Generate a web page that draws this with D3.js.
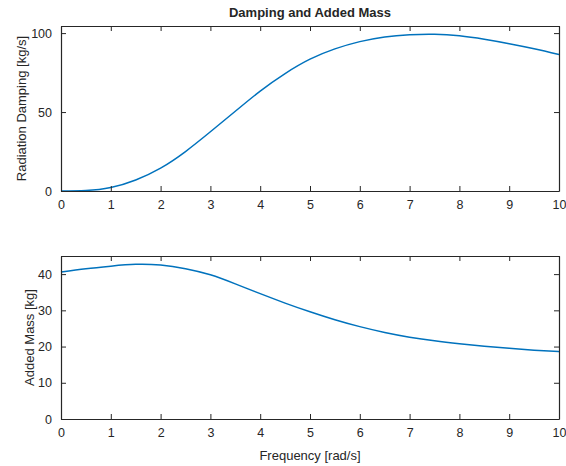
<!DOCTYPE html>
<html>
<head>
<meta charset="utf-8">
<script src="https://cdn.jsdelivr.net/npm/d3@7"></script>
<style>
  body { margin: 0; background: #fff; }
  svg text { font-family: "Liberation Sans", Arial, sans-serif; fill: #262626; }
</style>
</head>
<body>
<svg id="drawing_region"></svg>
<script>
// frequency samples [rad/s]
const freq = [0, 0.5, 1, 1.5, 2, 2.5, 3, 3.5, 4, 4.5, 5, 5.5, 6, 6.5, 7, 7.5, 8, 8.5, 9, 9.5, 10];
// radiation damping [kg/s]
const damping = [0, 0.3, 2.2, 7.0, 14.5, 25, 37.5, 50.5, 63.3, 74.4, 83.5, 90, 94.6, 97.6, 99, 99.3, 98.3, 96.1, 93.3, 90.1, 86.5];
// added mass [kg]
const addedMass = [40.6, 41.5, 42.2, 42.7, 42.5, 41.5, 39.8, 37.3, 34.6, 32.0, 29.6, 27.4, 25.5, 23.9, 22.6, 21.6, 20.8, 20.1, 19.5, 19.0, 18.6];

const xTicks = [0, 1, 2, 3, 4, 5, 6, 7, 8, 9, 10];
const dampTicks = [0, 50, 100];
const massTicks = [0, 10, 20, 30, 40];

const svg = d3.select('#drawing_region')
    .attr('width', 566)
    .attr('height', 466);

const left = 61, right = 559;
const xscale = d3.scaleLinear().domain([0, 10]).range([left, right]);

function panel(top, bottom, ymax, yvals, yticks, ylabel, labelX) {
    const yscale = d3.scaleLinear().domain([0, ymax]).range([bottom, top]);
    const g = svg.append('g');

    // curve
    const line = d3.line()
        .x((d, i) => xscale(freq[i]))
        .y(d => yscale(d))
        .curve(d3.curveNatural);
    g.append('path')
        .datum(yvals)
        .attr('d', line)
        .attr('fill', 'none')
        .attr('stroke', '#0072BD')
        .attr('stroke-width', 1.5);

    // axes with inward ticks (box on)
    const xb = g.append('g').attr('transform', `translate(0,${bottom})`)
        .call(d3.axisBottom(xscale).tickValues(xTicks).tickSizeInner(-5).tickSizeOuter(0).tickPadding(9));
    const xt = g.append('g').attr('transform', `translate(0,${top})`)
        .call(d3.axisTop(xscale).tickValues(xTicks).tickSizeInner(-5).tickSizeOuter(0).tickFormat(''));
    const yl = g.append('g').attr('transform', `translate(${left},0)`)
        .call(d3.axisLeft(yscale).tickValues(yticks).tickSizeInner(-5).tickSizeOuter(0).tickPadding(9));
    const yr = g.append('g').attr('transform', `translate(${right},0)`)
        .call(d3.axisRight(yscale).tickValues(yticks).tickSizeInner(-5).tickSizeOuter(0).tickFormat(''));

    [xb, xt, yl, yr].forEach(a => {
        a.select('.domain').attr('stroke', '#262626').attr('stroke-width', 1.2);
        a.selectAll('.tick line').attr('stroke', '#262626');
        a.selectAll('.tick text').attr('font-size', 12.5).attr('fill', '#4d4d4d')
            .attr('font-family', '"Liberation Sans", Arial, sans-serif');
    });

    g.append('text')
        .attr('transform', `translate(${labelX},${(top + bottom) / 2}) rotate(-90)`)
        .attr('text-anchor', 'middle')
        .attr('font-size', 13)
        .text(ylabel);
}

panel(26, 191, 104.5, damping, dampTicks, 'Radiation Damping [kg/s]', 26);
panel(256, 419, 45, addedMass, massTicks, 'Added Mass [kg]', 34);

svg.append('text')
    .attr('x', (left + right) / 2)
    .attr('y', 17)
    .attr('text-anchor', 'middle')
    .attr('font-size', 13)
    .attr('font-weight', 'bold')
    .attr('fill', '#000')
    .text('Damping and Added Mass');

svg.append('text')
    .attr('x', (left + right) / 2)
    .attr('y', 460)
    .attr('text-anchor', 'middle')
    .attr('font-size', 13)
    .text('Frequency [rad/s]');
</script>
</body>
</html>
